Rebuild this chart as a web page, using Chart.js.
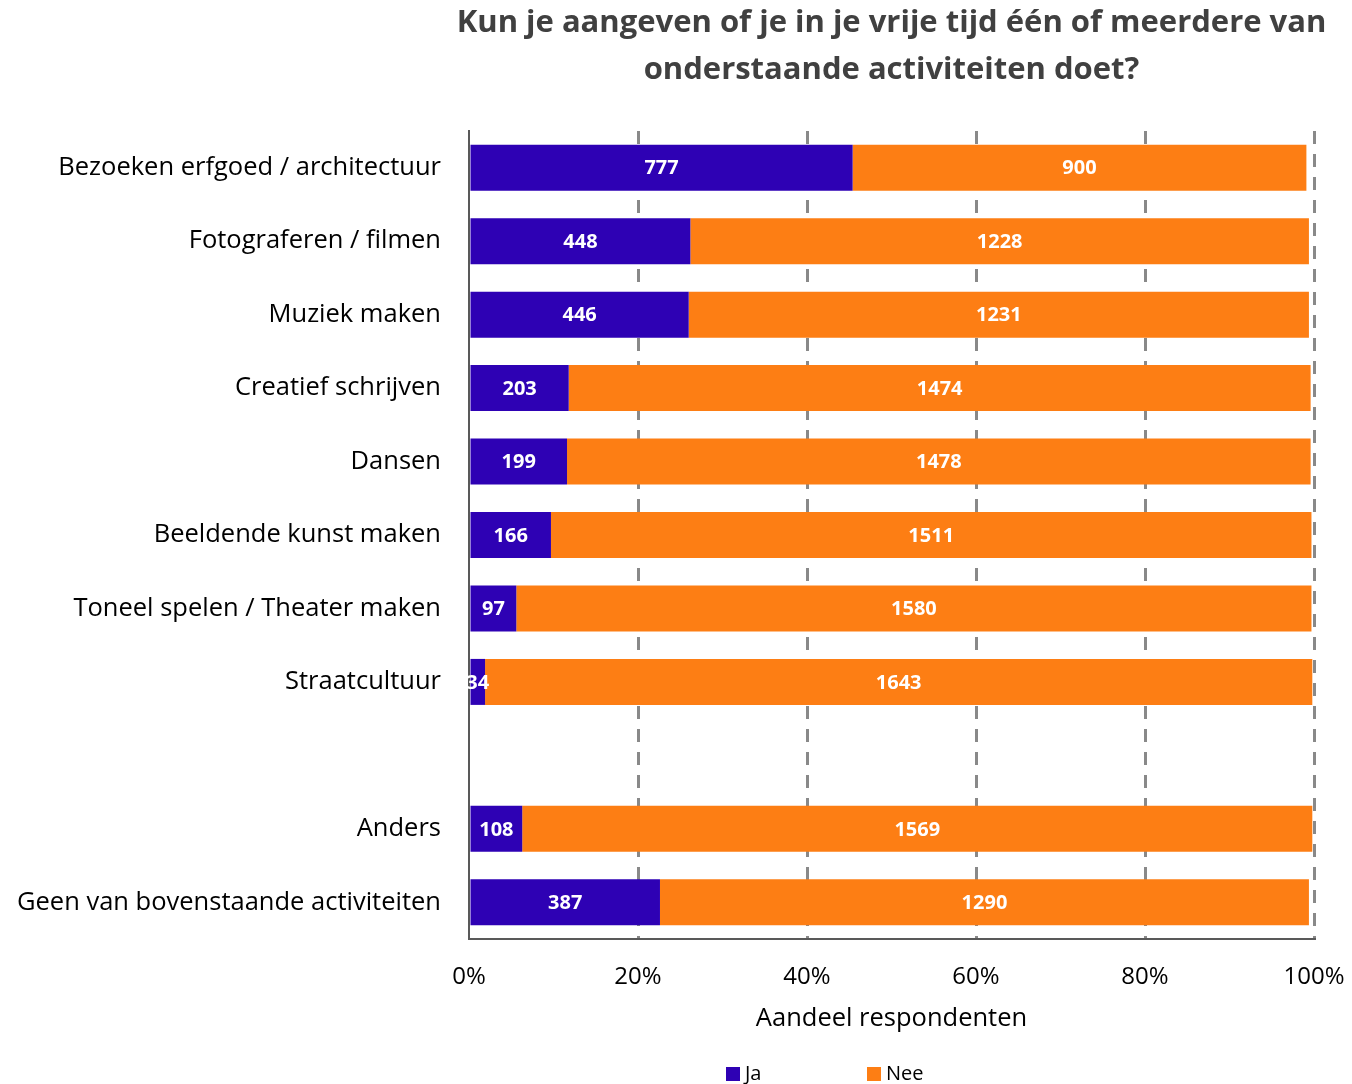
<!DOCTYPE html>
<html lang="nl">
<head>
    <meta charset="UTF-8">
    <title>Activiteiten in de vrije tijd</title>
    <script src="https://cdn.jsdelivr.net/npm/chart.js"></script>
    <style>
        html, body { margin: 0; padding: 0; background: #ffffff; }
        #wrap { width: 1352px; height: 1084px; }
    </style>
</head>
<body>
    <div id="wrap"><canvas id="activiteitenChart" width="1352" height="1084"></canvas></div>

    <script>
        // categorieen (lege regel = witruimte tussen Straatcultuur en Anders)
        const categories = [
            'Bezoeken erfgoed / architectuur',
            'Fotograferen / filmen',
            'Muziek maken',
            'Creatief schrijven',
            'Dansen',
            'Beeldende kunst maken',
            'Toneel spelen / Theater maken',
            'Straatcultuur',
            '',
            'Anders',
            'Geen van bovenstaande activiteiten'
        ];

        const jaPct  = [45.4, 26.2, 26.0, 11.8, 11.6,  9.7,  5.6,  1.9, null,  6.3, 22.6];
        const neePct = [53.7, 73.2, 73.4, 87.8, 88.0, 90.0, 94.1, 97.9, null, 93.5, 76.8];

        // aantallen (labels in de balken)
        const jaCount  = [777, 448, 446, 203, 199, 166, 97, 34, null, 108, 387];
        const neeCount = [900, 1228, 1231, 1474, 1478, 1511, 1580, 1643, null, 1569, 1290];

        const xTicks = [0, 20, 40, 60, 80, 100];

        const titleLines = [
            'Kun je aangeven of je in je vrije tijd één of meerdere van',
            'onderstaande activiteiten doet?'
        ];
        const legendItems = [
            { text: 'Ja', color: '#2e01b4' },
            { text: 'Nee', color: '#fd7e14' }
        ];

        const FONT = "'Open Sans', sans-serif";

        // titel boven het plotgebied
        const titlePlugin = {
            id: 'titel',
            afterDraw(chart) {
                const ctx = chart.ctx;
                const area = chart.chartArea;
                const cx = (area.left + area.right) / 2;
                ctx.save();
                ctx.fillStyle = '#404040';
                ctx.font = "bold 31px " + FONT;
                ctx.textAlign = 'center';
                ctx.textBaseline = 'middle';
                ctx.fillText(titleLines[0], cx, 23);
                ctx.fillText(titleLines[1], cx, 70);
                ctx.restore();
            }
        };

        // legenda onderaan
        const legendPlugin = {
            id: 'legenda',
            afterDraw(chart) {
                const ctx = chart.ctx;
                const xs = [726, 867];
                const y = 1074;
                ctx.save();
                ctx.font = "20px " + FONT;
                ctx.textBaseline = 'middle';
                ctx.textAlign = 'left';
                legendItems.forEach((item, i) => {
                    ctx.fillStyle = item.color;
                    ctx.fillRect(xs[i], y - 7, 14, 14);
                    ctx.fillStyle = '#000000';
                    ctx.fillText(item.text, xs[i] + 19, y);
                });
                ctx.restore();
            }
        };

        // aantallen in de balken
        const countLabels = [jaCount, neeCount];
        const labelPlugin = {
            id: 'aantallen',
            afterDatasetsDraw(chart) {
                const ctx = chart.ctx;
                ctx.save();
                ctx.font = "bold 20px " + FONT;
                ctx.fillStyle = '#ffffff';
                ctx.textAlign = 'center';
                ctx.textBaseline = 'middle';
                chart.data.datasets.forEach((ds, di) => {
                    const meta = chart.getDatasetMeta(di);
                    meta.data.forEach((bar, i) => {
                        const n = countLabels[di][i];
                        if (n === null || ds.data[i] === null) return;
                        const cx = (bar.x + bar.base) / 2;
                        ctx.fillText(String(n), cx, bar.y + 1);
                    });
                });
                ctx.restore();
            }
        };

        const ctx = document.getElementById('activiteitenChart').getContext('2d');
        new Chart(ctx, {
            type: 'bar',
            data: {
                labels: categories,
                datasets: [
                    {
                        label: 'Ja',
                        data: jaPct,
                        backgroundColor: '#2e01b4',
                        barPercentage: 0.626,
                        categoryPercentage: 1
                    },
                    {
                        label: 'Nee',
                        data: neePct,
                        backgroundColor: '#fd7e14',
                        barPercentage: 0.626,
                        categoryPercentage: 1
                    }
                ]
            },
            options: {
                indexAxis: 'y',
                responsive: false,
                animation: false,
                layout: { padding: { top: 131, right: 38, bottom: 40, left: 0 } },
                plugins: {
                    legend: { display: false },
                    title: { display: false },
                    tooltip: { enabled: false }
                },
                scales: {
                    x: {
                        stacked: true,
                        min: 0,
                        max: 100,
                        afterBuildTicks(scale) {
                            scale.ticks = xTicks.map(v => ({ value: v }));
                        },
                        afterFit(scale) {
                            scale.height = 105;
                            scale.paddingLeft = 0;
                            scale.paddingRight = 0;
                        },
                        grid: {
                            drawTicks: false,
                            color: (c) => c.index === 0 ? 'rgba(0,0,0,0)' : '#898989',
                            lineWidth: 3
                        },
                        border: {
                            display: true,
                            color: '#595959',
                            width: 2,
                            dash: [13, 10]
                        },
                        ticks: {
                            padding: 24,
                            color: '#000000',
                            font: { family: FONT, size: 24 },
                            callback: (v) => v + '%'
                        },
                        title: {
                            display: true,
                            text: 'Aandeel respondenten',
                            color: '#000000',
                            font: { family: FONT, size: 25.5 },
                            padding: { top: 0, bottom: 10 }
                        }
                    },
                    y: {
                        stacked: true,
                        afterFit(scale) { scale.width = 469; },
                        grid: { display: false, drawTicks: false },
                        border: { display: true, color: '#595959', width: 2 },
                        ticks: {
                            padding: 28,
                            color: '#000000',
                            font: { family: FONT, size: 25.5 }
                        }
                    }
                }
            },
            plugins: [titlePlugin, legendPlugin, labelPlugin]
        });
    </script>
</body>
</html>
